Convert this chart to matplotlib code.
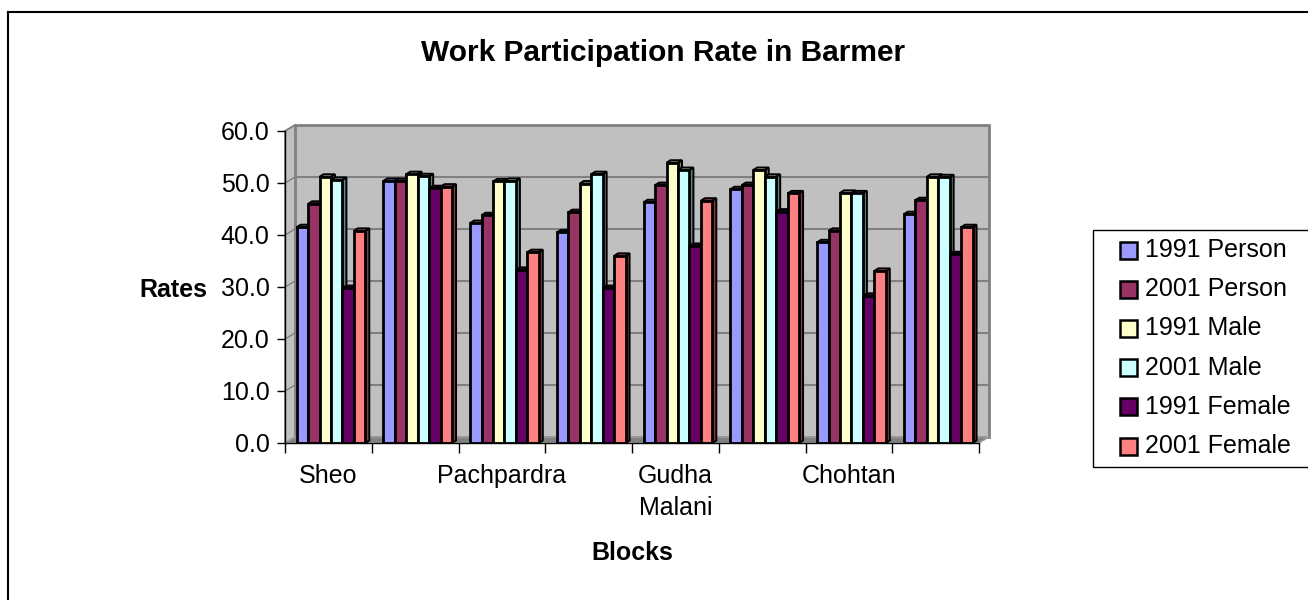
import matplotlib
matplotlib.use('Agg')
import matplotlib.pyplot as plt
from matplotlib.patches import Polygon, Rectangle
from matplotlib.lines import Line2D
import numpy as np

plt.rcParams['font.family'] = ['Liberation Sans', 'DejaVu Sans']

# data
tick_labels = ['Sheo', '', 'Pachpardra', '', 'Gudha\nMalani', '', 'Chohtan', '']
series_names = ['1991 Person', '2001 Person', '1991 Male', '2001 Male', '1991 Female', '2001 Female']
p1991 = [41.5, 50.4, 42.3, 40.5, 46.3, 48.8, 38.6, 44.0]
p2001 = [46.0, 50.4, 43.8, 44.4, 49.6, 49.6, 40.8, 46.7]
m1991 = [51.2, 51.7, 50.3, 49.9, 53.9, 52.5, 48.1, 51.2]
m2001 = [50.6, 51.3, 50.4, 51.7, 52.5, 51.2, 48.0, 51.1]
f1991 = [29.8, 49.0, 33.3, 29.8, 37.9, 44.5, 28.3, 36.3]
f2001 = [40.8, 49.3, 36.7, 36.0, 46.6, 48.0, 33.1, 41.5]
yticks = [0, 10, 20, 30, 40, 50, 60]

colors = ['#9999FF', '#993366', '#FFFFCC', '#CCFFFF', '#660066', '#FF8080']
series = [p1991, p2001, m1991, m2001, f1991, f2001]

W, H = 1308, 600
fig = plt.figure(figsize=(W / 100, H / 100), dpi=100)
fx = lambda px: px / W
fy = lambda py: 1 - py / H

ax_l, ax_r, ax_b, ax_t = 285, 979, 443, 131
ax = fig.add_axes([fx(ax_l), fy(ax_b), (ax_r - ax_l) / W, (ax_b - ax_t) / H])
n = len(p1991)
ax.set_xlim(-0.5, n - 0.5)
ax.set_ylim(0, 60)
ax.set_facecolor('none')

# pixel -> data sizes
ux = (ax_r - ax_l) / n
uy = (ax_b - ax_t) / 60.0
wdx, wdy = 10 / ux, 6 / uy   # wall depth
bdx, bdy = 4 / ux, 2.5 / uy  # bar depth

x0, x1 = -0.5, n - 0.5
wall_gray = '#C0C0C0'
edge_gray = '#808080'
# back wall
ax.add_patch(Rectangle((x0 + wdx, wdy), x1 - x0, 60, facecolor=wall_gray,
                       edgecolor=edge_gray, lw=2, zorder=0.1, clip_on=False))
# side wall
ax.add_patch(Polygon([(x0, 0), (x0, 60), (x0 + wdx, 60 + wdy), (x0 + wdx, wdy)],
                     facecolor=wall_gray, edgecolor=edge_gray, lw=1.2, zorder=0.2, clip_on=False))
# floor
ax.add_patch(Polygon([(x0, 0), (x1, 0), (x1 + wdx, wdy), (x0 + wdx, wdy)],
                     facecolor=edge_gray, edgecolor='#A0A0A0', lw=1, zorder=0.2, clip_on=False))
for t in yticks[1:-1]:
    ax.plot([x0 + wdx, x1 + wdx], [t + wdy, t + wdy], color=edge_gray, lw=1.5, zorder=0.15, clip_on=False)
for t in yticks[1:]:
    ax.plot([x0, x0 + wdx], [t, t + wdy], color=edge_gray, lw=1, zorder=0.25, clip_on=False)

bw = 0.132
shift = 0.03
x = np.arange(n)


def shade(c, f):
    c = np.array(matplotlib.colors.to_rgb(c))
    return tuple(c * f)


z = 2
for gi in range(n):
    for si, vals in enumerate(series):
        left = gi + shift + (si - 3) * bw
        h = vals[gi]
        ax.bar(left, h, width=bw, align='edge', color=colors[si], edgecolor='black', lw=2.0, zorder=z + 0.2)
        ax.add_patch(Polygon([(left + bw, 0), (left + bw, h), (left + bw + bdx, h + bdy), (left + bw + bdx, bdy)],
                             facecolor=shade(colors[si], 0.5), edgecolor='black', lw=1.4, zorder=z, clip_on=False))
        ax.add_patch(Polygon([(left, h), (left + bw, h), (left + bw + bdx, h + bdy), (left + bdx, h + bdy)],
                             facecolor=shade(colors[si], 0.7), edgecolor='black', lw=1.4, zorder=z + 0.1, clip_on=False))
        z += 1

for s in ['top', 'right']:
    ax.spines[s].set_visible(False)
for s in ['left', 'bottom']:
    ax.spines[s].set_color('black')
    ax.spines[s].set_linewidth(1)
    ax.spines[s].set_zorder(500)

ax.set_yticks(yticks)
ax.set_yticklabels(['%.1f' % t for t in yticks], fontsize=18)
ax.tick_params(axis='y', length=6, width=1, pad=5, direction='out')
ax.set_xticks(x)
ax.set_xticklabels(tick_labels, fontsize=18, linespacing=1.45)
ax.set_xticks(np.arange(n + 1) - 0.5, minor=True)
ax.tick_params(axis='x', which='major', length=0, pad=15)
ax.tick_params(axis='x', which='minor', length=7, width=1, direction='out')

fig.text(fx(207), fy(290), 'Rates', fontsize=18, fontweight='bold', ha='right', va='center')
fig.text(fx(632), fy(553), 'Blocks', fontsize=18, fontweight='bold', ha='center', va='center')
fig.text(fx(663), fy(53), 'Work Participation Rate in Barmer', fontsize=21.5, fontweight='bold',
         ha='center', va='center')

# outer chart border
fig.add_artist(Line2D([fx(8), fx(8)], [fy(12), 0], color='black', lw=1.5))
fig.add_artist(Line2D([fx(8), 1], [fy(12), fy(12)], color='black', lw=1.5))

# legend
fig.add_artist(Rectangle((fx(1093), fy(467)), fx(1320) - fx(1093), fy(230) - fy(467),
                         transform=fig.transFigure, facecolor='white', edgecolor='black', lw=1))
for i, name in enumerate(series_names):
    cy = 250 + 39.2 * i
    fig.add_artist(Rectangle((fx(1120), fy(cy + 8.5)), 17 / W, 17 / H, transform=fig.transFigure,
                             facecolor=colors[i], edgecolor='black', lw=1.8))
    fig.text(fx(1145), fy(cy), name, fontsize=18, ha='left', va='center')

fig.savefig('out.png', dpi=100)
